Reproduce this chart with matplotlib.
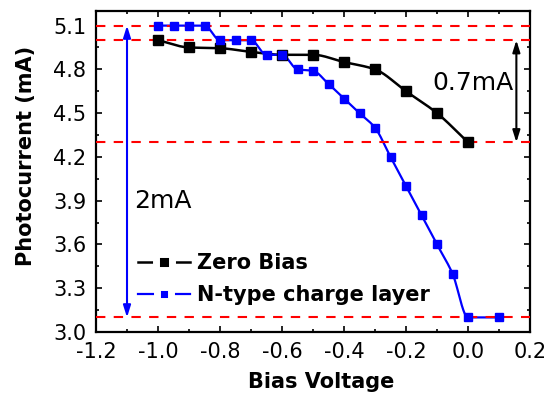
import numpy as np
import matplotlib
matplotlib.use("Agg")
import matplotlib.pyplot as plt
from matplotlib.ticker import MultipleLocator, FormatStrFormatter
from matplotlib.lines import Line2D

# ---- data ----
zero_x = [-1.0, -0.9, -0.8, -0.7, -0.6, -0.5, -0.4, -0.3, -0.2, -0.1, 0.0]
zero_y = [5.00, 4.95, 4.945, 4.92, 4.90, 4.90, 4.85, 4.80, 4.65, 4.50, 4.30]

ntype_x = [-1.0, -0.95, -0.9, -0.85, -0.8, -0.75, -0.7, -0.65, -0.6, -0.55, -0.5,
           -0.45, -0.4, -0.35, -0.3, -0.25, -0.2, -0.15, -0.1, -0.05, 0.0, 0.1]
ntype_y = [5.10, 5.10, 5.10, 5.10, 5.00, 5.00, 5.00, 4.90, 4.90, 4.80, 4.79,
           4.70, 4.60, 4.50, 4.40, 4.20, 4.00, 3.80, 3.60, 3.40, 3.10, 3.10]

ref_levels = [5.1, 5.0, 4.3, 3.1]
series_labels = ["Zero Bias", "N-type charge layer"]
xticks = [-1.2, -1.0, -0.8, -0.6, -0.4, -0.2, 0.0, 0.2]
yticks = [3.0, 3.3, 3.6, 3.9, 4.2, 4.5, 4.8, 5.1]


def pchip(x, y, n=30):
    """Monotone cubic (PCHIP) smoothing curve through the data points."""
    x = np.asarray(x, float)
    y = np.asarray(y, float)
    h = np.diff(x)
    d = np.diff(y) / h
    m = np.zeros_like(y)
    for k in range(1, len(x) - 1):
        if d[k - 1] * d[k] <= 0:
            m[k] = 0.0
        else:
            w1 = 2 * h[k] + h[k - 1]
            w2 = h[k] + 2 * h[k - 1]
            m[k] = (w1 + w2) / (w1 / d[k - 1] + w2 / d[k])
    m[0] = d[0]
    m[-1] = d[-1]
    xs, ys = [], []
    for k in range(len(x) - 1):
        t = np.linspace(0, 1, n, endpoint=False)
        h00 = 2 * t**3 - 3 * t**2 + 1
        h10 = t**3 - 2 * t**2 + t
        h01 = -2 * t**3 + 3 * t**2
        h11 = t**3 - t**2
        xs.append(x[k] + t * h[k])
        ys.append(h00 * y[k] + h10 * h[k] * m[k] + h01 * y[k + 1] + h11 * h[k] * m[k + 1])
    xs.append([x[-1]])
    ys.append([y[-1]])
    return np.concatenate(xs), np.concatenate(ys)


plt.rcParams['font.family'] = ['DejaVu Sans']

fig = plt.figure(figsize=(5.54, 3.96), dpi=100)
ax = fig.add_axes([0.1733, 0.1616, 0.7834, 0.8106])

# curves
bx, by = pchip(zero_x, zero_y)
ax.plot(bx, by, color='black', lw=1.8, zorder=3)
ax.plot(zero_x, zero_y, ls='none', marker='s', ms=7, color='black', zorder=5)

nx, ny = pchip(ntype_x, ntype_y)
ax.plot(nx, ny, color='#0000ff', lw=1.6, zorder=3)
ax.plot(ntype_x, ntype_y, ls='none', marker='s', ms=5.5, color='#0000ff', zorder=5)

# reference dashed lines
for lv in ref_levels:
    ax.axhline(lv, color='#ff0000', lw=1.5, ls=(0, (4.5, 4)), zorder=4)

# arrows
ax.annotate('', xy=(-1.1, 5.1), xytext=(-1.1, 3.1),
            arrowprops=dict(arrowstyle='<|-|>,head_length=0.7,head_width=0.22',
                            color='#0000ff', lw=1.5, shrinkA=0, shrinkB=0), zorder=6)
ax.annotate('', xy=(0.156, 5.0), xytext=(0.156, 4.3),
            arrowprops=dict(arrowstyle='<|-|>,head_length=0.7,head_width=0.22',
                            color='black', lw=1.5, shrinkA=0, shrinkB=0), zorder=6)

ax.text(-1.078, 3.90, '2mA', fontsize=18, va='center', ha='left')
ax.text(-0.116, 4.71, '0.7mA', fontsize=18, va='center', ha='left')

# axes
ax.set_xlim(-1.2, 0.2)
ax.set_ylim(3.0, 5.2)
ax.set_xticks(xticks)
ax.set_yticks(yticks)
ax.xaxis.set_minor_locator(MultipleLocator(0.1))
ax.yaxis.set_minor_locator(MultipleLocator(0.15))
ax.xaxis.set_major_formatter(FormatStrFormatter('%.1f'))
ax.yaxis.set_major_formatter(FormatStrFormatter('%.1f'))
ax.tick_params(which='both', direction='in', top=True, right=True, width=1.2, labelsize=15, pad=7)
ax.tick_params(which='major', length=4)
ax.tick_params(which='minor', length=2.5)
for s in ax.spines.values():
    s.set_linewidth(1.6)

ax.set_xlabel('Bias Voltage', fontsize=15, fontweight='bold')
ax.set_ylabel('Photocurrent (mA)', fontsize=15, fontweight='bold')
ax.xaxis.set_label_coords(0.518, -0.125)
ax.yaxis.set_label_coords(-0.139, 0.55)

# legend with Origin-style handles (gap around marker)
h1 = Line2D([], [], color='black', lw=1.8, marker='s', ms=12, mfc='black',
            mec='white', mew=5)
h2 = Line2D([], [], color='#0000ff', lw=1.6, marker='s', ms=10.5, mfc='#0000ff',
            mec='white', mew=5)
leg = ax.legend([h1, h2], series_labels, loc='upper left', bbox_to_anchor=(0.097, 0.245),
                frameon=False, numpoints=1, handlelength=2.5, handletextpad=0.35,
                labelspacing=0.55, borderpad=0.0, borderaxespad=0.0,
                prop={'size': 15, 'weight': 'bold'})

fig.savefig('out.png', dpi=100)
